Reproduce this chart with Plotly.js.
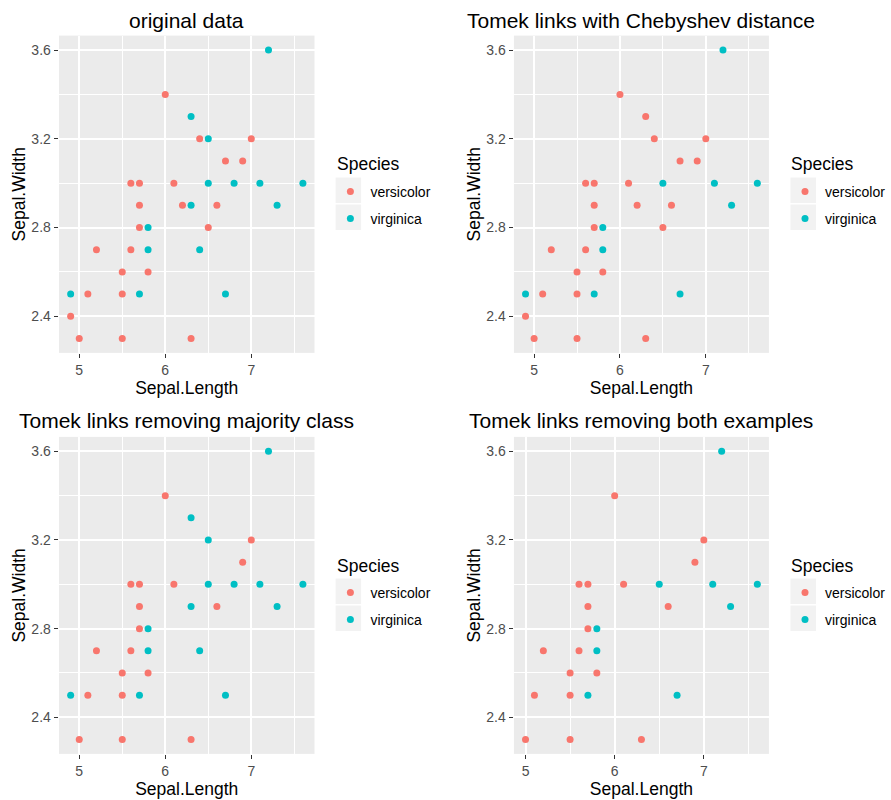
<!DOCTYPE html>
<html>
<head>
<meta charset="utf-8">
<script src="https://cdn.plot.ly/plotly-3.0.1.min.js"></script>
<style>html,body{margin:0;padding:0;background:#fff;}#chart{width:891px;height:800px;}</style>
</head>
<body>
<div id="chart"></div>
<script>
// ---------- data ----------
const panelTitles = ["original data", "Tomek links with Chebyshev distance", "Tomek links removing majority class", "Tomek links removing both examples"];
const speciesNames = ["versicolor", "virginica"];
const legendTitle = "Species";
const xLabel = "Sepal.Length";
const yLabel = "Sepal.Width";

const p1VersX = [6.0,6.4,7.0,6.7,6.9,5.6,5.7,6.1,5.7,6.2,6.6,5.7,6.5,5.2,5.6,5.5,5.8,5.1,5.5,4.9,5.0,5.5,6.3];
const p1VersY = [3.4,3.2,3.2,3.1,3.1,3.0,3.0,3.0,2.9,2.9,2.9,2.8,2.8,2.7,2.7,2.6,2.6,2.5,2.5,2.4,2.3,2.3,2.3];
const p1VirgX = [7.2,6.3,6.5,6.5,6.8,7.1,7.6,6.3,7.3,5.8,5.8,6.4,4.9,5.7,6.7];
const p1VirgY = [3.6,3.3,3.2,3.0,3.0,3.0,3.0,2.9,2.9,2.8,2.7,2.7,2.5,2.5,2.5];

const p2VersX = [6.0,6.3,6.4,7.0,6.7,6.9,5.6,5.7,6.1,5.7,6.2,6.6,5.7,6.5,5.2,5.6,5.5,5.8,5.1,5.5,4.9,5.0,5.5,6.3];
const p2VersY = [3.4,3.3,3.2,3.2,3.1,3.1,3.0,3.0,3.0,2.9,2.9,2.9,2.8,2.8,2.7,2.7,2.6,2.6,2.5,2.5,2.4,2.3,2.3,2.3];
const p2VirgX = [7.2,6.5,7.1,7.6,7.3,5.8,5.8,4.9,5.7,6.7];
const p2VirgY = [3.6,3.0,3.0,3.0,2.9,2.8,2.7,2.5,2.5,2.5];

const p3VersX = [6.0,7.0,6.9,5.6,5.7,6.1,5.7,6.6,5.7,5.2,5.6,5.5,5.8,5.1,5.5,5.0,5.5,6.3];
const p3VersY = [3.4,3.2,3.1,3.0,3.0,3.0,2.9,2.9,2.8,2.7,2.7,2.6,2.6,2.5,2.5,2.3,2.3,2.3];
const p3VirgX = [7.2,6.3,6.5,6.5,6.8,7.1,7.6,6.3,7.3,5.8,5.8,6.4,4.9,5.7,6.7];
const p3VirgY = [3.6,3.3,3.2,3.0,3.0,3.0,3.0,2.9,2.9,2.8,2.7,2.7,2.5,2.5,2.5];

const p4VersX = [6.0,7.0,6.9,5.6,5.7,6.1,5.7,6.6,5.7,5.2,5.6,5.5,5.8,5.1,5.5,5.0,5.5,6.3];
const p4VersY = [3.4,3.2,3.1,3.0,3.0,3.0,2.9,2.9,2.8,2.7,2.7,2.6,2.6,2.5,2.5,2.3,2.3,2.3];
const p4VirgX = [7.2,6.5,7.1,7.6,7.3,5.8,5.8,5.7,6.7];
const p4VirgY = [3.6,3.0,3.0,3.0,2.9,2.8,2.7,2.5,2.5];

// ---------- styling ----------
const W = 891, H = 800;
const COLORS = ["#F8766D", "#00BFC4"];
const FONT = "Liberation Sans, Arial, Helvetica, sans-serif";
const panels = [
  {vx: p1VersX, vy: p1VersY, gx: p1VirgX, gy: p1VirgY},
  {vx: p2VersX, vy: p2VersY, gx: p2VirgX, gy: p2VirgY},
  {vx: p3VersX, vy: p3VersY, gx: p3VirgX, gy: p3VirgY},
  {vx: p4VersX, vy: p4VersY, gx: p4VirgX, gy: p4VirgY}
];
const xDomains = [[59.5/W, 317/W], [518/W, 775/W], [59.5/W, 317/W], [518/W, 775/W]];
const yDomains = [[1-352.9/H, 1-35.6/H], [1-352.9/H, 1-35.6/H], [1-753.9/H, 1-436.9/H], [1-753.9/H, 1-436.9/H]];
const legendLeft = [333, 791.4, 333, 791.4];
const legendTop = [176, 176, 577, 577];
const legendTitleY = [164, 164, 565.5, 565.5];
const keyLeft = [338.3, 796.7, 338.3, 796.7];
const keyTops = [[177.5, 204.5], [177.5, 204.5], [578.5, 605.5], [578.5, 605.5]];

function expand(arr){
  const mn = Math.min(...arr), mx = Math.max(...arr), d = (mx - mn) * 0.05;
  return [mn - d, mx + d];
}

const traces = [];
const layout = {
  width: W, height: H,
  margin: {l: 0, r: 0, t: 0, b: 0},
  paper_bgcolor: "#ffffff",
  plot_bgcolor: "#EBEBEB",
  font: {family: FONT, color: "#000000"},
  showlegend: true,
  annotations: [],
  shapes: []
};

panels.forEach((p, i) => {
  const n = i + 1;
  const xa = n === 1 ? "x" : "x" + n;
  const ya = n === 1 ? "y" : "y" + n;
  const lg = n === 1 ? "legend" : "legend" + n;
  const series = [[p.vx, p.vy], [p.gx, p.gy]];
  series.forEach((s, k) => {
    traces.push({
      type: "scatter", mode: "markers",
      x: s[0], y: s[1], xaxis: xa, yaxis: ya,
      name: speciesNames[k], legend: lg, legendgroup: "g" + n + "_" + k,
      marker: {color: COLORS[k], size: 7, line: {width: 0}},
      hoverinfo: "x+y+name"
    });
  });
  const allX = p.vx.concat(p.gx), allY = p.vy.concat(p.gy);
  const axisCommon = {
    showline: false, zeroline: false, showgrid: true,
    gridcolor: "#FFFFFF", gridwidth: 1.6,
    ticks: "outside", ticklen: 4.4, tickwidth: 1.1, tickcolor: "#333333",
    tickfont: {family: FONT, size: 14, color: "#4D4D4D"},
    fixedrange: true
  };
  layout["xaxis" + (n === 1 ? "" : n)] = Object.assign({}, axisCommon, {
    domain: xDomains[i], anchor: ya, range: expand(allX),
    tick0: 5, dtick: 1,
    minor: {tick0: 5, dtick: 0.5, showgrid: true, gridcolor: "#FFFFFF", gridwidth: 0.8, ticks: ""},
    title: {text: xLabel, font: {family: FONT, size: 17.5, color: "#000000"}, standoff: 1}
  });
  layout["yaxis" + (n === 1 ? "" : n)] = Object.assign({}, axisCommon, {
    domain: yDomains[i], anchor: xa, range: expand(allY),
    tick0: 2.4, dtick: 0.4, tickformat: ".1f",
    minor: {tick0: 2.4, dtick: 0.2, showgrid: true, gridcolor: "#FFFFFF", gridwidth: 0.8, ticks: ""},
    title: {text: yLabel, font: {family: FONT, size: 17.5, color: "#000000"}, standoff: 1}
  });
  layout[lg] = {
    x: legendLeft[i] / W, y: 1 - legendTop[i] / H, xanchor: "left", yanchor: "top",
    xref: "paper", yref: "paper",
    bgcolor: "rgba(0,0,0,0)", borderwidth: 0,
    traceorder: "grouped", tracegroupgap: 5.8,
    font: {family: FONT, size: 14, color: "#000000"},
    itemclick: false, itemdoubleclick: false
  };
  // legend title
  layout.annotations.push({
    text: legendTitle, xref: "paper", yref: "paper",
    x: (keyLeft[i] - 1) / W, y: 1 - legendTitleY[i] / H,
    xanchor: "left", yanchor: "middle", showarrow: false,
    font: {family: FONT, size: 17.5, color: "#000000"}
  });
  // panel title
  layout.annotations.push({
    text: panelTitles[i], xref: "paper", yref: "paper",
    x: (xDomains[i][0] + xDomains[i][1]) / 2, y: i < 2 ? 1 - 20 / H : 1 - 420 / H,
    xanchor: "center", yanchor: "middle", showarrow: false,
    font: {family: FONT, size: 21, color: "#000000"}
  });
  // legend key backgrounds
  keyTops[i].forEach(t => {
    layout.shapes.push({
      type: "rect", xref: "paper", yref: "paper", layer: "below",
      x0: keyLeft[i] / W, x1: (keyLeft[i] + 25.7) / W,
      y0: 1 - (t + 25.5) / H, y1: 1 - t / H,
      fillcolor: "#F2F2F2", line: {width: 0}
    });
  });
});

Plotly.newPlot("chart", traces, layout, {displayModeBar: false});
</script>
</body>
</html>
